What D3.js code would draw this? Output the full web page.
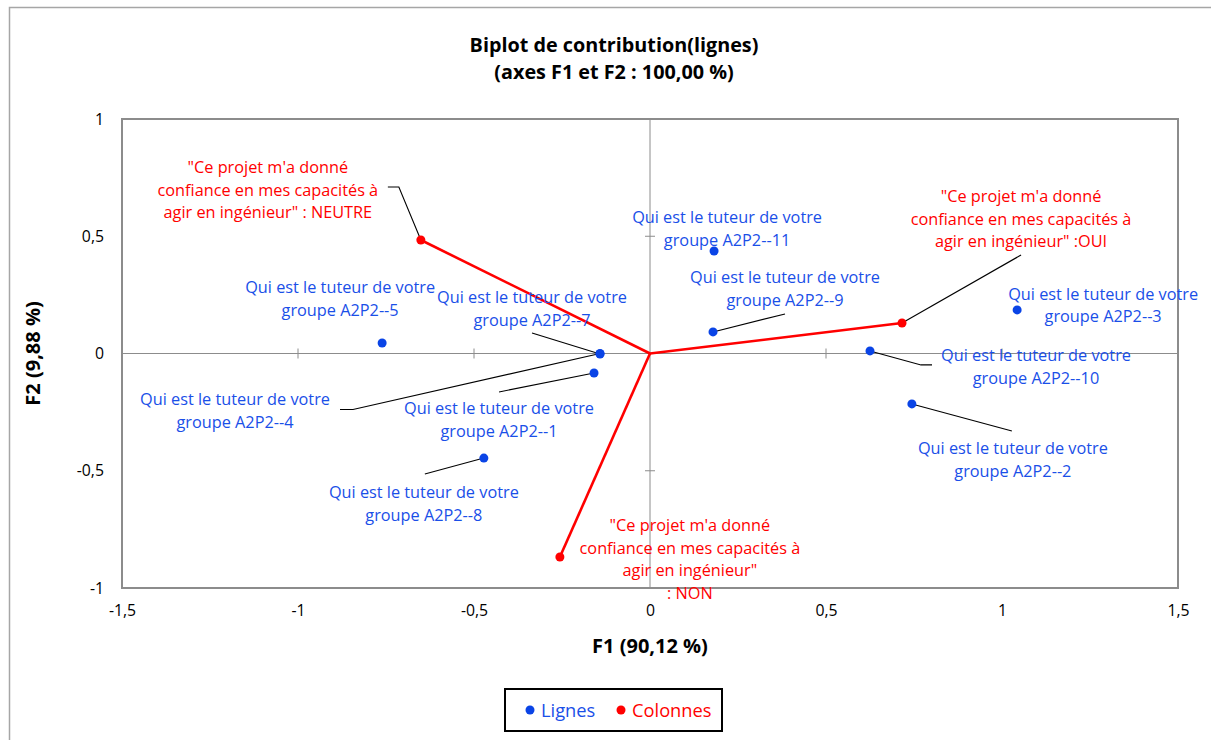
<!DOCTYPE html>
<html><head><meta charset="utf-8">
<script src="https://cdn.jsdelivr.net/npm/d3@7"></script>
<style>
body{margin:0;background:#fff;}
text{font-family:"Open Sans",sans-serif;}
</style></head>
<body><svg id="c" width="1211" height="740"></svg>
<script>
// ---- data ----
const rowNames = ["Qui est le tuteur de votre groupe A2P2--1","Qui est le tuteur de votre groupe A2P2--2","Qui est le tuteur de votre groupe A2P2--3","Qui est le tuteur de votre groupe A2P2--4","Qui est le tuteur de votre groupe A2P2--5","Qui est le tuteur de votre groupe A2P2--7","Qui est le tuteur de votre groupe A2P2--8","Qui est le tuteur de votre groupe A2P2--9","Qui est le tuteur de votre groupe A2P2--10","Qui est le tuteur de votre groupe A2P2--11"];
const rowF1 = [-0.159, 0.744, 1.043, -0.142, -0.761, -0.142, -0.472, 0.179, 0.625, 0.182];
const rowF2 = [-0.083, -0.215, 0.186, 0.000, 0.045, -0.002, -0.446, 0.092, 0.011, 0.437];
const colNames = ["\"Ce projet m'a donné confiance en mes capacités à agir en ingénieur\" : NEUTRE","\"Ce projet m'a donné confiance en mes capacités à agir en ingénieur\" :OUI","\"Ce projet m'a donné confiance en mes capacités à agir en ingénieur\" : NON"];
const colF1 = [-0.651, 0.716, -0.256];
const colF2 = [0.484, 0.130, -0.868];
const xTicks = [-1.5, -1, -0.5, 0, 0.5, 1, 1.5];
const yTicks = [-1, -0.5, 0, 0.5, 1];
const titleLines = ["Biplot de contribution(lignes)", "(axes F1 et F2 : 100,00 %)"];
const xTitle = "F1 (90,12 %)", yTitle = "F2 (9,88 %)";
const legendNames = ["Lignes", "Colonnes"];

// ---- layout (pixel offsets of labels relative to their point) ----
const rowLabelLines = [["Qui est le tuteur de votre","groupe A2P2--1"],["Qui est le tuteur de votre","groupe A2P2--2"],["Qui est le tuteur de votre","groupe A2P2--3"],["Qui est le tuteur de votre","groupe A2P2--4"],["Qui est le tuteur de votre","groupe A2P2--5"],["Qui est le tuteur de votre","groupe A2P2--7"],["Qui est le tuteur de votre","groupe A2P2--8"],["Qui est le tuteur de votre","groupe A2P2--9"],["Qui est le tuteur de votre","groupe A2P2--10"],["Qui est le tuteur de votre","groupe A2P2--11"]];
const rowLabelOff = [[-95,35],[101,44],[86,-16],[-365,46],[-42,-56],[-68,-57],[-60,34],[72,-55],[166,4],[13,-34]];
const rowLeader = [[[-95,19]],[[100,27]],[],[[-247,56],[-260,56]],[],[[-68,-21]],[[-59,16]],[[72,-18]],[[51,14],[62,14]],[]];
const colLabelLines = [["\"Ce projet m'a donné","confiance en mes capacités à","agir en ingénieur\" : NEUTRE"],["\"Ce projet m'a donné","confiance en mes capacités à","agir en ingénieur\" :OUI"],["\"Ce projet m'a donné","confiance en mes capacités à","agir en ingénieur\"",": NON"]];
const colLabelOff = [[-153,-73],[119,-127],[130,-32]];
const colLeader = [[[-22,-53],[-33,-53]],[[119,-68]],[]];

const svg = d3.select("#c");
const blue = "#0a44e6", red = "#ff0000", blueTxt = "#1a4fe8";
const L = 122, R = 1178, T = 119, B = 588;
const x = d3.scaleLinear().domain([-1.5, 1.5]).range([L, R]);
const y = d3.scaleLinear().domain([-1, 1]).range([B, T]);

// outer chart border
svg.append("rect").attr("x", 9.5).attr("y", 7.5).attr("width", 1220).attr("height", 760)
  .attr("fill", "#fff").attr("stroke", "#a6a6a6").attr("stroke-width", 1.5);

// titles
svg.selectAll(".title").data(titleLines).enter().append("text")
  .attr("x", 614).attr("y", (d, i) => 52 + i * 27).attr("text-anchor", "middle")
  .attr("font-size", 19.8).attr("font-weight", "bold").attr("fill", "#000").text(d => d);

// zero lines
svg.append("line").attr("x1", L).attr("x2", R).attr("y1", y(0)).attr("y2", y(0)).attr("stroke", "#8c8c8c").attr("stroke-width", 1);
svg.append("line").attr("y1", T).attr("y2", B).attr("x1", x(0)).attr("x2", x(0)).attr("stroke", "#8c8c8c").attr("stroke-width", 1);
// cross tick marks on zero lines
const xTickG = svg.append("g").attr("transform", `translate(0,${y(0)})`);
xTickG.selectAll("line").data(xTicks.filter(v => v !== 0 && Math.abs(v) !== 1.5)).enter().append("line")
  .attr("x1", d => x(d)).attr("x2", d => x(d)).attr("y1", -5).attr("y2", 5).attr("stroke", "#8c8c8c");
const yTickG = svg.append("g").attr("transform", `translate(${x(0)},0)`);
yTickG.selectAll("line").data(yTicks.filter(v => v !== 0 && Math.abs(v) !== 1)).enter().append("line")
  .attr("y1", d => y(d)).attr("y2", d => y(d)).attr("x1", -5).attr("x2", 5).attr("stroke", "#8c8c8c");

// plot border
svg.append("rect").attr("x", L).attr("y", T).attr("width", R - L).attr("height", B - T)
  .attr("fill", "none").attr("stroke", "#8c8c8c").attr("stroke-width", 2);

// axis tick labels
const fmt = v => String(v).replace(".", ",");
const gx = svg.append("g").attr("transform", `translate(0,${B})`)
  .call(d3.axisBottom(x).tickValues(xTicks).tickSize(0).tickPadding(17).tickFormat(fmt));
const gy = svg.append("g").attr("transform", `translate(${L},0)`)
  .call(d3.axisLeft(y).tickValues(yTicks).tickSize(0).tickPadding(18).tickFormat(fmt));
[gx, gy].forEach(g => {
  g.select(".domain").remove();
  g.selectAll("text").attr("font-size", 15.8).attr("fill", "#000").attr("font-family", "'Open Sans', sans-serif");
});

// axis titles
svg.append("text").attr("x", x(0)).attr("y", 653).attr("text-anchor", "middle")
  .attr("font-size", 20).attr("font-weight", "bold").text(xTitle);
svg.append("text").attr("transform", `translate(40,${y(0)}) rotate(-90)`).attr("text-anchor", "middle")
  .attr("font-size", 20).attr("font-weight", "bold").text(yTitle);

const cols = colNames.map((n, i) => ({ n, f1: colF1[i], f2: colF2[i], lines: colLabelLines[i], off: colLabelOff[i], lead: colLeader[i] }));
const rows = rowNames.map((n, i) => ({ n, f1: rowF1[i], f2: rowF2[i], lines: rowLabelLines[i], off: rowLabelOff[i], lead: rowLeader[i] }));

// leader lines
function leaders(data) {
  svg.append("g").selectAll("polyline").data(data.filter(d => d.lead.length)).enter().append("polyline")
    .attr("points", d => [[x(d.f1), y(d.f2)]].concat(d.lead.map(p => [x(d.f1) + p[0], y(d.f2) + p[1]])).map(p => p.join(",")).join(" "))
    .attr("fill", "none").attr("stroke", "#000").attr("stroke-width", 1.1);
}
leaders(rows); leaders(cols);

svg.append("g").selectAll("line").data(cols).enter().append("line")
  .attr("x1", x(0)).attr("y1", y(0)).attr("x2", d => x(d.f1)).attr("y2", d => y(d.f2))
  .attr("stroke", red).attr("stroke-width", 2.6);
svg.append("g").selectAll("circle").data(cols).enter().append("circle")
  .attr("cx", d => x(d.f1)).attr("cy", d => y(d.f2)).attr("r", 4.5).attr("fill", red);
svg.append("g").selectAll("circle").data(rows).enter().append("circle")
  .attr("cx", d => x(d.f1)).attr("cy", d => y(d.f2)).attr("r", 4.5).attr("fill", blue);

// labels
function labels(data, color) {
  const g = svg.append("g").selectAll("text").data(data).enter().append("text")
    .attr("text-anchor", "middle").attr("font-size", 16.3).attr("fill", color);
  g.each(function (d) {
    const t = d3.select(this);
    d.lines.forEach((ln, k) => {
      t.append("tspan").attr("x", x(d.f1) + d.off[0]).attr("y", y(d.f2) + d.off[1] + k * 22.8 + 5.8).text(ln);
    });
  });
}
labels(rows, blueTxt);
labels(cols, red);

// legend
const lg = svg.append("g");
lg.append("rect").attr("x", 505).attr("y", 689).attr("width", 217).attr("height", 42)
  .attr("fill", "#fff").attr("stroke", "#000").attr("stroke-width", 2);
const legItems = [{ n: legendNames[0], c: blue, tc: blueTxt, x: 530 }, { n: legendNames[1], c: red, tc: red, x: 621 }];
legItems.forEach(it => {
  lg.append("circle").attr("cx", it.x).attr("cy", 710).attr("r", 4.5).attr("fill", it.c);
  lg.append("text").attr("x", it.x + 11).attr("y", 716.5).attr("font-size", 18.3).attr("fill", it.tc).text(it.n);
});
</script></body></html>
